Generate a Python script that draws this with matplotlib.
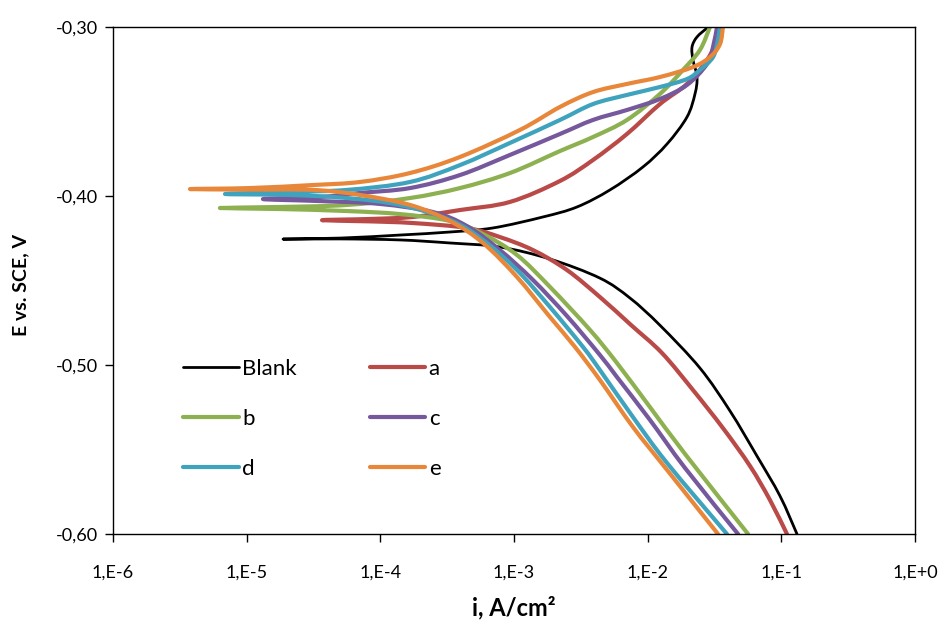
import matplotlib
matplotlib.use("Agg")
from matplotlib import pyplot as plt
from matplotlib.path import Path
from matplotlib.patches import PathPatch
from matplotlib.lines import Line2D
import numpy as np

# log10 of current density (A/cm2) and potential (V vs SCE)
# each curve runs from the cathodic end (-0,60 V) to Ecorr and up the anodic branch
blank_logi = [-0.883, -1.010, -1.182, -1.384, -1.609, -1.908, -2.132, -2.357, -2.731, -3.105,
              -3.479, -3.853, -4.30, -4.728,
              -4.30, -3.853, -3.479, -3.157, -2.783, -2.529, -2.282, -2.035, -1.855, -1.706,
              -1.646, -1.631, -1.661, -1.668, -1.631, -1.556]
blank_e = [-0.600, -0.5775, -0.5539, -0.5272, -0.5018, -0.4765, -0.4604, -0.4486, -0.4373, -0.4302,
           -0.4278, -0.4260, -0.4254, -0.4255,
           -0.4249, -0.4231, -0.4213, -0.4189, -0.4124, -0.4065, -0.3964, -0.3828, -0.3692, -0.3533,
           -0.3396, -0.3296, -0.3195, -0.3118, -0.3059, -0.3006]

a_logi = [-0.958, -1.085, -1.234, -1.437, -1.661, -1.893, -2.125, -2.357, -2.604, -2.858,
          -3.105, -3.352, -3.756, -4.08, -4.436,
          -4.08, -3.756, -3.404, -3.030, -2.656, -2.409, -2.155, -1.908, -1.706, -1.556,
          -1.481, -1.466]
a_e = [-0.600, -0.5799, -0.5598, -0.5373, -0.5148, -0.4929, -0.4763, -0.4598, -0.4438, -0.4320,
       -0.4243, -0.4189, -0.4160, -0.4150, -0.4143,
       -0.4136, -0.4124, -0.4083, -0.4035, -0.3911, -0.3787, -0.3633, -0.3456, -0.3337, -0.3195,
       -0.3077, -0.300]

b_logi = [-1.249, -1.714, -1.983, -2.230, -2.431, -2.731, -2.978, -3.232, -3.479,
          -3.853, -4.249, -4.75, -5.200,
          -4.75, -4.249, -3.778, -3.404, -3.030, -2.656, -2.409, -2.155, -1.908, -1.736,
          -1.609, -1.534]
b_e = [-0.600, -0.5533, -0.5249, -0.4988, -0.4793, -0.4538, -0.4349, -0.4225, -0.4148,
       -0.4107, -0.4089, -0.4077, -0.4071,
       -0.4065, -0.4053, -0.4012, -0.3953, -0.3864, -0.3734, -0.3651, -0.3550, -0.3396, -0.3254,
       -0.3136, -0.300]

c_logi = [-1.324, -1.721, -1.983, -2.230, -2.357, -2.604, -2.858, -3.105, -3.352,
          -3.606, -4.003, -4.45, -4.878,
          -4.45, -4.152, -3.778, -3.404, -3.030, -2.656, -2.409, -2.155, -1.908, -1.706,
          -1.556, -1.511, -1.481]
c_e = [-0.600, -0.5609, -0.5325, -0.5071, -0.4941, -0.4710, -0.4497, -0.4320, -0.4178,
       -0.4095, -0.4047, -0.4030, -0.4018,
       -0.4006, -0.3982, -0.3953, -0.3876, -0.3757, -0.3633, -0.3550, -0.3491, -0.3426, -0.3343,
       -0.3219, -0.3118, -0.300]

d_logi = [-1.407, -1.855, -2.110, -2.357, -2.484, -2.731, -2.978, -3.232, -3.479,
          -3.853, -4.249, -4.676, -5.162,
          -4.676, -4.249, -3.778, -3.404, -3.030, -2.656, -2.409, -2.155, -1.908, -1.706,
          -1.609, -1.511, -1.474, -1.459]
d_e = [-0.600, -0.5580, -0.5308, -0.5030, -0.4893, -0.4657, -0.4438, -0.4260, -0.4142,
       -0.4053, -0.4012, -0.3994, -0.3988,
       -0.3976, -0.3964, -0.3917, -0.3817, -0.3686, -0.3550, -0.3456, -0.3402, -0.3355, -0.3308,
       -0.3254, -0.3178, -0.3077, -0.300]

e_logi = [-1.474, -1.855, -2.110, -2.357, -2.544, -2.731, -2.978, -3.232, -3.479,
          -3.778, -4.152, -4.504, -4.975, -5.424,
          -4.975, -4.504, -4.152, -3.778, -3.404, -2.955, -2.656, -2.409, -2.155, -1.908,
          -1.661, -1.534, -1.459, -1.437]
e_e = [-0.600, -0.5621, -0.5367, -0.5089, -0.4893, -0.4716, -0.4479, -0.4278, -0.4148,
       -0.4053, -0.3994, -0.3964, -0.3962, -0.3959,
       -0.3953, -0.3935, -0.3917, -0.3864, -0.3769, -0.3609, -0.3473, -0.3385, -0.3337, -0.3296,
       -0.3237, -0.3178, -0.3101, -0.300]

labels = ["Blank", "a", "b", "c", "d", "e"]
colors = ["#000000", "#B94A48", "#8DB050", "#76599C", "#3FA3BE", "#E8873A"]

x_ticks = [1e-6, 1e-5, 1e-4, 1e-3, 1e-2, 1e-1, 1e0]
x_tick_labels = ["1,E-6", "1,E-5", "1,E-4", "1,E-3", "1,E-2", "1,E-1", "1,E+0"]
y_ticks = [-0.60, -0.50, -0.40, -0.30]
y_tick_labels = ["-0,60", "-0,50", "-0,40", "-0,30"]


def smooth_path(logi, pot):
    # Excel style "smoothed line": bezier segments through the read points,
    # tangents worked out in screen-like units (px per decade / px per volt)
    sx, sy = 133.67, 1690.0
    pts = np.column_stack([np.array(logi) * sx, np.array(pot) * sy])
    n = len(pts)
    verts = [pts[0]]
    codes = [Path.MOVETO]
    for k in range(n - 1):
        p0 = pts[k - 1] if k > 0 else pts[k]
        p1 = pts[k]
        p2 = pts[k + 1]
        p3 = pts[k + 2] if k + 2 < n else pts[k + 1]
        verts += [p1 + (p2 - p0) / 6, p2 - (p3 - p1) / 6, p2]
        codes += [Path.CURVE4] * 3
    verts = np.array(verts)
    verts[:, 0] = 10 ** (verts[:, 0] / sx)
    verts[:, 1] = verts[:, 1] / sy
    return Path(verts, codes)


plt.rcParams['font.family'] = ['Lato', 'DejaVu Sans']

fig = plt.figure(figsize=(9.47, 6.26), dpi=100)
ax = fig.add_axes([113 / 947, 1 - 534 / 626, (915 - 113) / 947, (534 - 27) / 626])

ax.set_xscale("log")
ax.set_xlim(1e-6, 1e0)
ax.set_ylim(-0.60, -0.30)

curves = [(blank_logi, blank_e), (a_logi, a_e), (b_logi, b_e),
          (c_logi, c_e), (d_logi, d_e), (e_logi, e_e)]
handles = []
for (logi, pot), lab, col in zip(curves, labels, colors):
    lw = 2.0 if lab == "Blank" else 3.0
    ax.add_patch(PathPatch(smooth_path(logi, pot), fill=False, edgecolor=col, lw=lw,
                           capstyle="round", joinstyle="round"))
    handles.append(Line2D([], [], color=col, lw=lw, solid_capstyle="round"))

ax.set_xticks(x_ticks)
ax.set_xticklabels(x_tick_labels)
ax.xaxis.set_minor_locator(matplotlib.ticker.NullLocator())
ax.set_yticks(y_ticks)
ax.set_yticklabels(y_tick_labels)
ax.tick_params(axis="both", direction="out", length=6, width=1, labelsize=13, colors="#000000")
ax.tick_params(axis="x", pad=16)
ax.tick_params(axis="y", pad=5)
for sp in ax.spines.values():
    sp.set_linewidth(1.0)

ax.set_xlabel("i, A/cm²", fontsize=17, fontweight="bold", labelpad=11)
ax.set_ylabel("E vs. SCE, V", fontsize=14, fontweight="bold")
ax.yaxis.set_label_coords(-0.105, (534 - 285) / 507)

# legend fills row by row: Blank a / b c / d e
order = [0, 2, 4, 1, 3, 5]
ax.legend([handles[i] for i in order], [labels[i] for i in order], ncol=2, frameon=False,
          loc="upper left", bbox_to_anchor=(183 / 947, 1 - 359 / 626),
          bbox_transform=fig.transFigure, borderpad=0, borderaxespad=0,
          fontsize=16, handlelength=2.5, handletextpad=0.15, labelspacing=1.35,
          columnspacing=3.3)

fig.savefig("out.png", dpi=100)
